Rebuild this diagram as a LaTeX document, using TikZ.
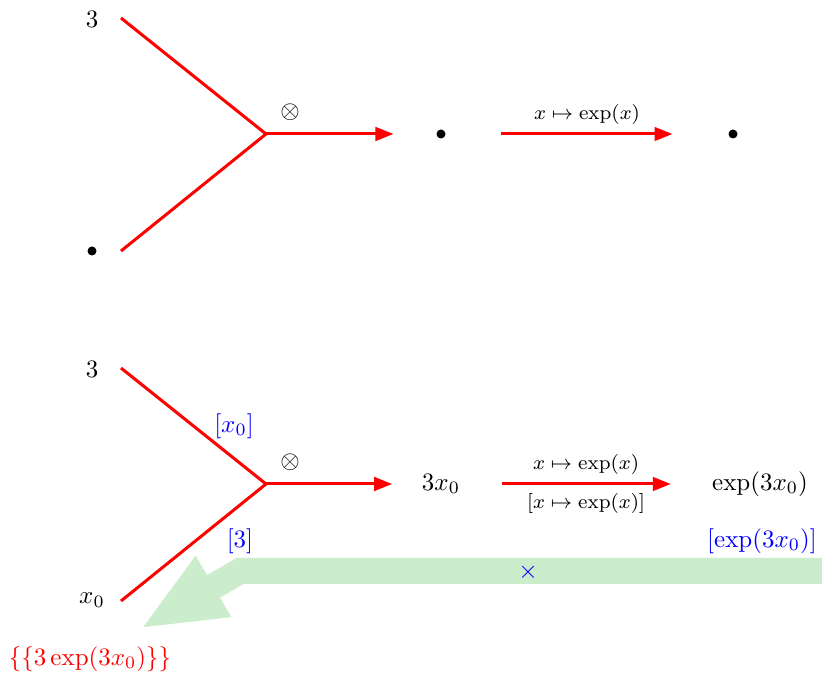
\documentclass[tikz,border=0pt]{standalone}
\usetikzlibrary{arrows.meta,bending,positioning}
\definecolor{bandgreen}{RGB}{204,237,204}
\begin{document}
\begin{tikzpicture}[x=0.4pt,y=-0.4pt,
        wire/.style={red, line width=1.2pt},
        arr/.style={wire, -{Triangle[length=7.2pt,width=5.4pt]}},
        pt/.style={circle, fill, inner sep=0pt, minimum size=3.6pt},
        lbl/.style={font=\footnotesize, black},
        note/.style={blue}]
    \useasboundingbox (0,0) rectangle (822,679);

    % feedback band (behind everything)
    \coordinate (fa) at (840,571);
    \coordinate (fb) at (240,571);
    \coordinate (fc) at (140,629);
    \draw[bandgreen, line width=10.4pt, -{Triangle[length=34pt,width=25.6pt]}]
        (fa) -- (fb) -- (fc);
    \node[note] (cross) at (528,572) {$\times$};

    % top diagram
    \coordinate (ja) at (266,134);
    \coordinate (ia1) at (121,18);
    \coordinate (ia2) at (121,251);
    \node (la1) at (92,19) {$3$};
    \node[pt] (la2) at (92,251) {};
    \draw[wire] (ia1) -- (ja) -- (ia2);
    \node (ta) at (290,112) {$\otimes$};
    \node[pt] (ma) at (441,134) {};
    \node[pt] (ra) at (733,134) {};
    \draw[arr, shorten >=17pt] (ja) -- (ma);
    \draw[arr, shorten <=21.8pt, shorten >=22.2pt] (ma) --
        node[lbl, above] {$x\mapsto\exp(x)$} (ra);

    % bottom diagram
    \coordinate (jb) at (266,484);
    \coordinate (ib1) at (121,368);
    \coordinate (ib2) at (121,601);
    \node (lb1) at (92,369) {$3$};
    \node (lb2) at (92,600) {$x_0$};
    \draw[wire] (ib1) -- (jb) -- (ib2);
    \node (tb) at (290,462) {$\otimes$};
    \node (mb) at (441,484) {$3x_0$};
    \node (rb) at (760,484) {$\exp(3x_0)$};
    \draw[arr, shorten >=8.4pt] (jb) -- (mb);
    \draw[arr, shorten <=13.2pt, shorten >=13pt] (mb) --
        node[lbl, above] {$x\mapsto\exp(x)$}
        node[lbl, below] {$[x\mapsto\exp(x)]$} (rb);

    % annotations
    \node[note] (nx) at (234,426) {$[x_0]$};
    \node[note] (n3) at (240,541) {$[3]$};
    \node[note] (ne) at (762,541) {$[\exp(3x_0)]$};
    \node[red] (res) at (90,659) {$\{\{3\exp(3x_0)\}\}$};
\end{tikzpicture}
\end{document}
